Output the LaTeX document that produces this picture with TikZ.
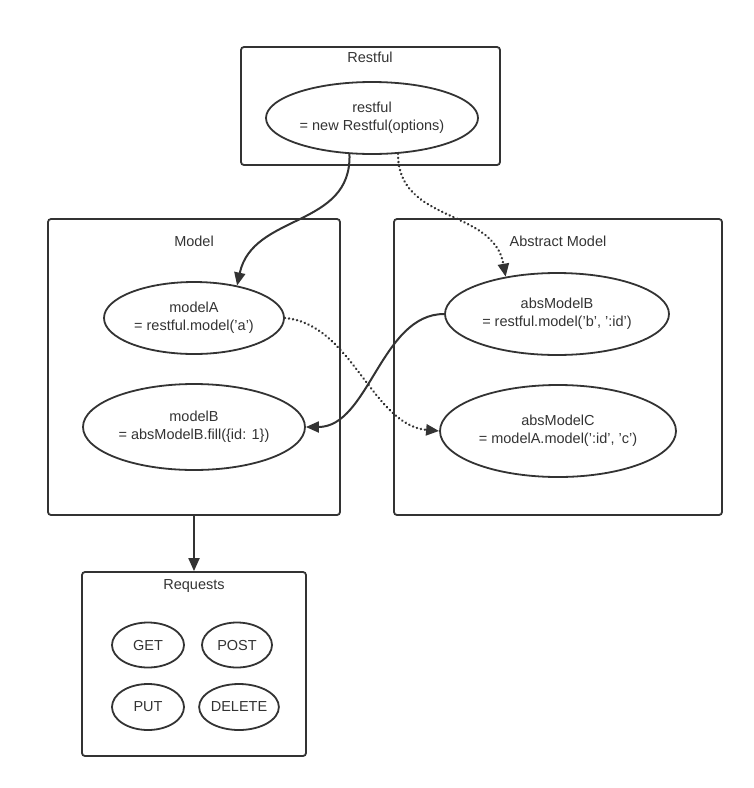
\documentclass[tikz,border=0pt]{standalone}
\usepackage{fontspec}
\setmainfont{Liberation Sans}
\usetikzlibrary{shapes.geometric,arrows.meta}
\definecolor{ink}{HTML}{333333}
\begin{document}
\begin{tikzpicture}[x=1pt,y=1pt,
  every node/.style={text=ink,font=\fontsize{14.5}{18}\selectfont},
  frame/.style={draw=ink,line width=1.8pt,rounded corners=3pt,rectangle,inner sep=0pt},
  oval/.style={draw=ink,line width=1.8pt,ellipse,inner sep=0pt,align=center},
  title/.style={inner sep=0pt},
  link/.style={draw=ink,line width=2pt,-{Triangle[length=13pt,width=11pt]}},
  dots/.style={link,line cap=round,dash pattern=on 0.1pt off 4pt,line width=2.6pt}
]
\useasboundingbox (0,0) rectangle (754,-788);
% frames
\node[frame,minimum width=259pt,minimum height=118pt] (fR) at (370.5,-106) {};
\node[frame,minimum width=292pt,minimum height=296pt] (fM) at (194,-367) {};
\node[frame,minimum width=328pt,minimum height=296pt] (fA) at (558,-367) {};
\node[frame,minimum width=224pt,minimum height=184pt] (fQ) at (194,-664) {};
% titles
\node[title] (tR) at (370,-57) {Restful};
\node[title] (tM) at (194,-241) {Model};
\node[title] (tA) at (558,-241) {Abstract Model};
\node[title] (tQ) at (194,-586) {Requests};
% ellipses
\node[oval,minimum width=212pt,minimum height=72pt] (restful) at (372,-118) {restful\\= new Restful(options)};
\node[oval,minimum width=180pt,minimum height=72pt] (modelA) at (194,-318) {modelA\\= restful.model('a')};
\node[oval,minimum width=222pt,minimum height=86pt] (modelB) at (194,-427) {modelB\\= absModelB.fill(\{id: 1\})};
\node[oval,minimum width=224pt,minimum height=82pt] (absB) at (557,-314) {absModelB\\= restful.model('b', ':id')};
\node[oval,minimum width=236pt,minimum height=92pt] (absC) at (558,-431) {absModelC\\= modelA.model(':id', 'c')};
\node[oval,minimum width=72pt,minimum height=45pt] (get) at (148,-645) {GET};
\node[oval,minimum width=70pt,minimum height=45pt] (post) at (237,-645) {POST};
\node[oval,minimum width=72pt,minimum height=46pt] (put) at (148,-707) {PUT};
\node[oval,minimum width=72pt,minimum height=46pt] (del) at (239,-707) {DELETE};
% connectors
\draw[link] (restful.-122) to[out=-88,in=78,looseness=1.1] (modelA.37);
\draw[dots] (restful.-54) to[out=-90,in=100,looseness=1.1] (absB.144);
\draw[dots] (modelA.east) to[out=-5,in=175,looseness=0.9] (absC.west);
\draw[link] (absB.west) to[out=180,in=0,looseness=0.9] (modelB.east);
\draw[link] (fM.south) -- (fQ.north);
\end{tikzpicture}
\end{document}
